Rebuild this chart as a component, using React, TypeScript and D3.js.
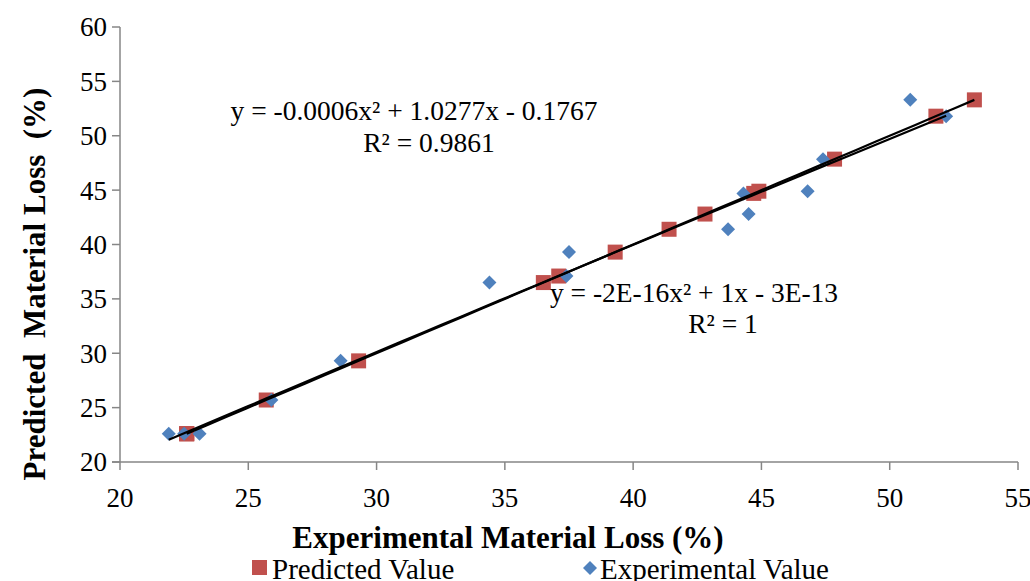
import React from 'react';
import * as d3 from 'd3';

// predicted value for each sample (y value of both series)
const predicted = [22.6, 22.6, 22.6, 25.7, 29.3, 36.5, 37.1, 39.3, 41.4, 42.8, 44.7, 44.9, 47.85, 51.8, 53.3];
// experimental value for each sample
const experimental = [21.9, 22.5, 23.1, 25.9, 28.6, 34.4, 37.4, 37.5, 43.7, 44.5, 44.3, 46.8, 47.4, 52.2, 50.8];

const xTicks = [20, 25, 30, 35, 40, 45, 50, 55];
const yTicks = [20, 25, 30, 35, 40, 45, 50, 55, 60];

// trendline coefficients as printed in the chart (a x^2 + b x + c)
const expFit = [-0.0006, 1.0277, -0.1767];
const predFit = [0, 1, 0];

const RED = '#C0504D';
const BLUE = '#4F81BD';
const AXIS = '#868686';
const FONT = '"Liberation Serif", "Times New Roman", serif';

const W = 1030;
const H = 581;
const margin = { left: 120, right: 12, top: 27, bottom: 119 };

export default function App() {
  const x = d3.scaleLinear().domain([20, 55]).range([margin.left, W - margin.right]);
  const y = d3.scaleLinear().domain([20, 60]).range([H - margin.bottom, margin.top]);

  const fitLine = (coef: number[], xs: number[]) => {
    const [a, b, c] = coef;
    const lo = d3.min(xs)!;
    const hi = d3.max(xs)!;
    const pts = d3.range(0, 41).map((i) => {
      const v = lo + ((hi - lo) * i) / 40;
      return [v, a * v * v + b * v + c] as [number, number];
    });
    return d3
      .line<[number, number]>()
      .x((d) => x(d[0]))
      .y((d) => y(d[1]))(pts)!;
  };

  const diamond = d3.symbol().type(d3.symbolDiamond2).size(125)()!;
  const sq = 15;

  return (
    <svg
      width={W}
      height={H}
      style={{ position: 'absolute', left: 0, top: 0, background: '#fff' }}
      fontFamily={FONT}
    >
      {/* axes */}
      <line x1={x(20)} x2={x(20)} y1={y(20)} y2={y(60)} stroke={AXIS} strokeWidth={1.5} />
      <line x1={x(20) - 8} x2={x(55)} y1={y(20)} y2={y(20)} stroke={AXIS} strokeWidth={1.5} />
      {yTicks.map((t) => (
        <g key={'y' + t}>
          <line x1={x(20) - 8} x2={x(20)} y1={y(t)} y2={y(t)} stroke={AXIS} strokeWidth={1.5} />
          <text x={x(20) - 13} y={y(t)} dy="0.35em" textAnchor="end" fontSize={27}>
            {t}
          </text>
        </g>
      ))}
      {xTicks.map((t) => (
        <g key={'x' + t}>
          <line x1={x(t)} x2={x(t)} y1={y(20)} y2={y(20) + 8} stroke={AXIS} strokeWidth={1.5} />
          <text x={x(t)} y={y(20) + 45} textAnchor="middle" fontSize={27}>
            {t}
          </text>
        </g>
      ))}

      {/* markers */}
      {predicted.map((p, i) => (
        <rect key={'p' + i} x={x(p) - sq / 2} y={y(p) - sq / 2} width={sq} height={sq} fill={RED} />
      ))}
      {experimental.map((e, i) => (
        <path key={'e' + i} d={diamond} transform={`translate(${x(e)},${y(predicted[i])})`} fill={BLUE} />
      ))}

      {/* trendlines */}
      <path d={fitLine(predFit, predicted)} fill="none" stroke="#000" strokeWidth={2.2} />
      <path d={fitLine(expFit, experimental)} fill="none" stroke="#000" strokeWidth={2.2} />

      {/* trendline labels */}
      <text x={414} y={120} textAnchor="middle" fontSize={27.5}>
        y = -0.0006x² + 1.0277x - 0.1767
      </text>
      <text x={429} y={152} textAnchor="middle" fontSize={27.5}>
        R² = 0.9861
      </text>
      <text x={694} y={302} textAnchor="middle" fontSize={27.5}>
        y = -2E-16x² + 1x - 3E-13
      </text>
      <text x={723} y={333} textAnchor="middle" fontSize={27.5}>
        R² = 1
      </text>

      {/* axis titles */}
      <text x={508} y={548} textAnchor="middle" fontSize={31} fontWeight="bold">
        Experimental Material Loss (%)
      </text>
      <text
        transform={`translate(45,284) rotate(-90)`}
        textAnchor="middle"
        fontSize={31}
        fontWeight="bold"
        style={{ whiteSpace: 'pre' }}
      >
        {'Predicted  Material Loss  (%)'}
      </text>

      {/* legend */}
      <rect x={252} y={560} width={15} height={15} fill={RED} />
      <text x={272} y={579} fontSize={29}>
        Predicted Value
      </text>
      <path d={diamond} transform="translate(590,568)" fill={BLUE} />
      <text x={600} y={579} fontSize={29}>
        Experimental Value
      </text>
    </svg>
  );
}
